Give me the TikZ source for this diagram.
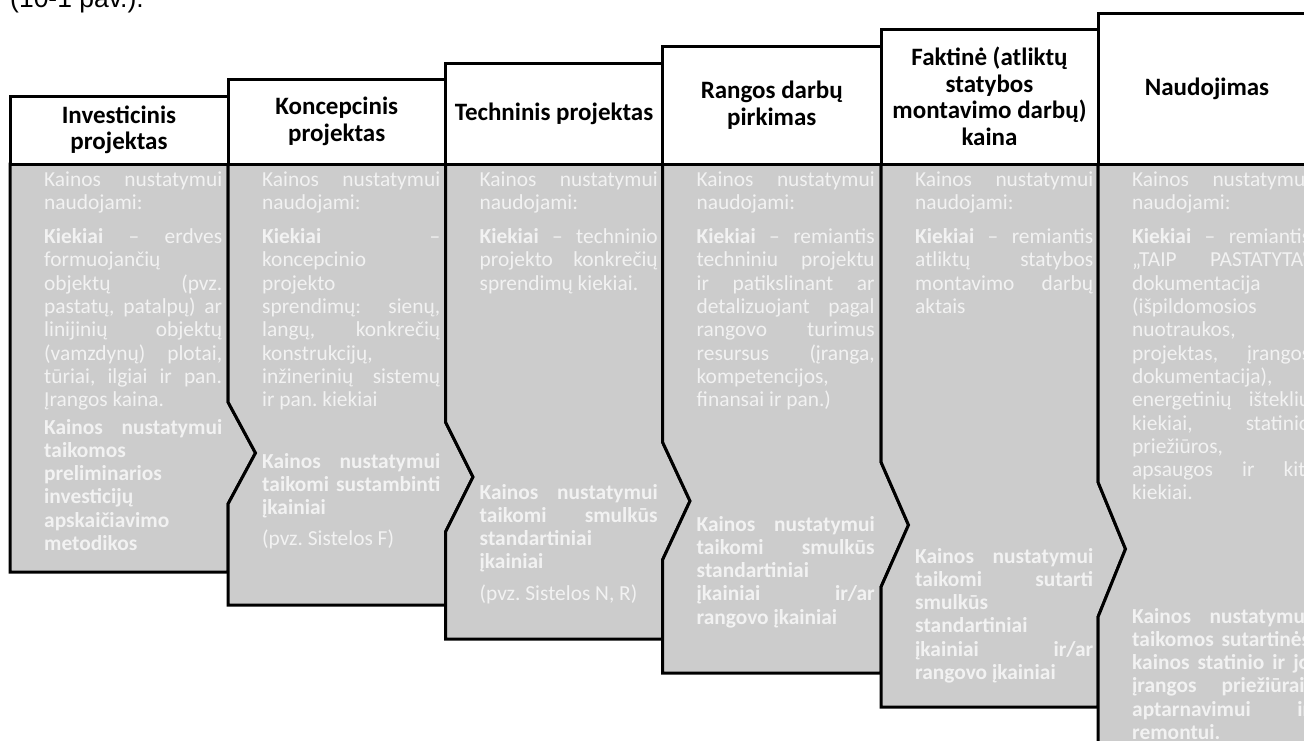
\documentclass[tikz,border=0pt]{standalone}
\usepackage{fontspec}
\setmainfont{Carlito}
\newfontfamily\capfont{Liberation Sans}
\hbadness=10000
\hfuzz=30pt
\frenchspacing
\definecolor{boxgray}{RGB}{204,204,204}
\definecolor{txtlight}{RGB}{242,242,242}
% one justified line of a text block: the spaces share the spare width
\newcommand\jl[1]{\leavevmode\hbox to \linewidth{%
  \spaceskip=\fontdimen2\font plus 1fil minus .3\fontdimen2\font\relax #1}}

\begin{document}
\begin{tikzpicture}[x=1pt,y=-1pt,
  frame/.style={draw=black,line width=3pt,line join=miter},
  headbox/.style={frame,fill=white},
  bodybox/.style={frame,fill=boxgray},
  headtxt/.style={font=\bfseries\fontsize{25}{26.5}\selectfont,align=center,inner sep=0pt},
  bodytxt/.style={font=\fontsize{21.4}{23.3}\selectfont,text=txtlight,text width=178pt,
    align=flush left,inner sep=0pt,anchor=base west},
  methtxt/.style={bodytxt,font=\bfseries\fontsize{21.4}{23.3}\selectfont}]
\useasboundingbox (0,0) rectangle (1304,740);
\clip (0,0) rectangle (1304,740);

% caption line running above the chart
\node[font=\capfont\fontsize{26.5}{30}\selectfont,anchor=base west,inner sep=0pt] (cap) at (10,7) {(10-1 pav.).};

% grey bodies of the six stages, each notched by the one before it
\draw[bodybox] (10,164) -- (228,164) -- (228,402) -- (255.5,453) -- (228,504) -- (228,572) -- (10,572) -- cycle;
\draw[bodybox] (228,164) -- (445.5,164) -- (445.5,422) -- (473,477) -- (445.5,532) -- (445.5,605)
  -- (228,605) -- (228,504) -- (255.5,453) -- (228,402) -- cycle;
\draw[bodybox] (445.5,164) -- (662.5,164) -- (662.5,442) -- (690,501) -- (662.5,560) -- (662.5,639)
  -- (445.5,639) -- (445.5,532) -- (473,477) -- (445.5,422) -- cycle;
\draw[bodybox] (662.5,164) -- (881,164) -- (881,462) -- (908.5,525) -- (881,587) -- (881,673)
  -- (662.5,673) -- (662.5,560) -- (690,501) -- (662.5,442) -- cycle;
\draw[bodybox] (881,164) -- (1098,164) -- (1098,482) -- (1125.5,549) -- (1098,617) -- (1098,707)
  -- (881,707) -- (881,587) -- (908.5,525) -- (881,462) -- cycle;
\draw[bodybox] (1098,164) -- (1316,164) -- (1316,760) -- (1098,760) -- (1098,617) -- (1125.5,549)
  -- (1098,482) -- cycle;

% white title boxes, stepping upwards
\draw[headbox] (10,96) rectangle (228,164);
\draw[headbox] (228,79) rectangle (445.5,164);
\draw[headbox] (445.5,63) rectangle (662.5,164);
\draw[headbox] (662.5,46) rectangle (881,164);
\draw[headbox] (881,29) rectangle (1098,164);
\draw[headbox] (1098,13) rectangle (1316,164);

\node[headtxt] (h1) at (119,130) {Investicinis\\projektas};
\node[headtxt] (h2) at (336.75,121.5) {Koncepcinis\\projektas};
\node[headtxt] (h3) at (554,113.5) {Techninis projektas};
\node[headtxt] (h4) at (771.75,105) {Rangos darbų\\pirkimas};
\node[headtxt] (h5) at (989.5,96.5) {Faktinė (atliktų\\statybos\\montavimo darbų)\\kaina};
\node[headtxt] (h6) at (1207,88.5) {Naudojimas};

% quantities used in each stage
\node[bodytxt] (q1) at (44,186) {\jl{Kainos nustatymui}\\naudojami:\\[11pt]
  \jl{{\bfseries Kiekiai} – erdves}\\formuojančių\\\jl{objektų (pvz.}\\\jl{pastatų, patalpų) ar}\\
  \jl{linijinių objektų}\\\jl{(vamzdynų) plotai,}\\\jl{tūriai, ilgiai ir pan.}\\Įrangos kaina.};
\node[bodytxt] (q2) at (262,186) {\jl{Kainos nustatymui}\\naudojami:\\[11pt]
  \jl{{\bfseries Kiekiai} \hfill –}\\koncepcinio\\projekto\\\jl{sprendimų: sienų,}\\
  \jl{langų, konkrečių}\\konstrukcijų,\\\jl{inžinerinių sistemų}\\ir pan. kiekiai};
\node[bodytxt] (q3) at (479.5,186) {\jl{Kainos nustatymui}\\naudojami:\\[11pt]
  \jl{{\bfseries Kiekiai} – techninio}\\\jl{projekto konkrečių}\\sprendimų kiekiai.};
\node[bodytxt] (q4) at (696.5,186) {\jl{Kainos nustatymui}\\naudojami:\\[11pt]
  \jl{{\bfseries Kiekiai} – remiantis}\\\jl{techniniu projektu}\\\jl{ir patikslinant ar}\\
  \jl{detalizuojant pagal}\\\jl{rangovo turimus}\\\jl{resursus (įranga,}\\kompetencijos,\\
  finansai ir pan.)};
\node[bodytxt] (q5) at (915,186) {\jl{Kainos nustatymui}\\naudojami:\\[11pt]
  \jl{{\bfseries Kiekiai} – remiantis}\\\jl{atliktų statybos}\\\jl{montavimo darbų}\\aktais};
\node[bodytxt] (q6) at (1132,186) {\jl{Kainos nustatymui}\\naudojami:\\[11pt]
  \jl{{\bfseries Kiekiai} – remiantis}\\\jl{„TAIP PASTATYTA“}\\dokumentacija\\(išpildomosios\\
  nuotraukos,\\\jl{projektas, įrangos}\\dokumentacija),\\\jl{energetinių išteklių}\\
  \jl{kiekiai, statinio}\\priežiūros,\\\jl{apsaugos ir kiti}\\kiekiai.};

% pricing methods applied in each stage
\node[methtxt] (m1) at (44,434) {\jl{Kainos nustatymui}\\taikomos\\preliminarios\\investicijų\\
  apskaičiavimo\\metodikos};
\node[methtxt] (m2) at (262,468) {\jl{Kainos nustatymui}\\\jl{taikomi sustambinti}\\įkainiai\\[8pt]
  {\mdseries (pvz. Sistelos F)}};
\node[methtxt] (m3) at (479.5,499) {\jl{Kainos nustatymui}\\\jl{taikomi smulkūs}\\standartiniai\\
  įkainiai\\[8pt]{\mdseries (pvz. Sistelos N, R)}};
\node[methtxt] (m4) at (696.5,531) {\jl{Kainos nustatymui}\\\jl{taikomi smulkūs}\\standartiniai\\
  \jl{įkainiai ir/ar}\\rangovo įkainiai};
\node[methtxt] (m5) at (915,563) {\jl{Kainos nustatymui}\\\jl{taikomi sutarti}\\smulkūs\\
  standartiniai\\\jl{įkainiai ir/ar}\\rangovo įkainiai};
\node[methtxt] (m6) at (1132,623) {\jl{Kainos nustatymui}\\\jl{taikomos sutartinės}\\
  \jl{kainos statinio ir jo}\\\jl{įrangos priežiūrai,}\\\jl{aptarnavimui ir}\\remontui.};
\end{tikzpicture}
\end{document}
